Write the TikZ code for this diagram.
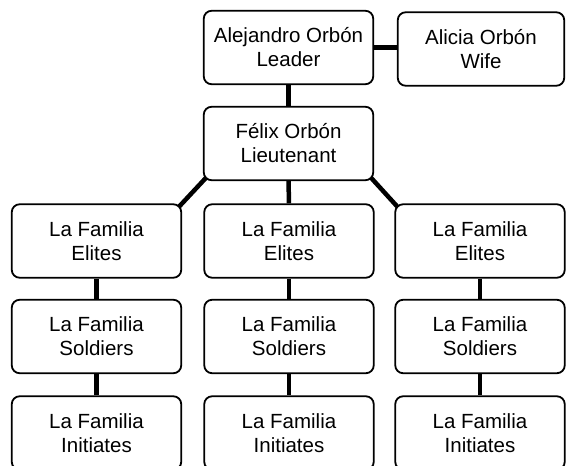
\documentclass[tikz,border=0pt]{standalone}
\usepackage{fontspec}
\setmainfont{Liberation Sans}
\usetikzlibrary{backgrounds}
\begin{document}
\begin{tikzpicture}[x=1pt,y=-1pt,
  rank/.style={draw,line width=1.8pt,rounded corners=8pt,fill=white,minimum width=169.5pt,minimum height=73.5pt,align=center,inner sep=0pt,font=\fontsize{20.5}{24}\selectfont},
  tie/.style={line width=4.5pt},
  long tie/.style={tie,shorten >=-6pt,shorten <=-6pt}]
\clip (0,0) rectangle (566,466);

% top of the family
\node[rank] (leader) at (288.5,47.5) {Alejandro Orbón\\Leader};
\node[rank,minimum width=166.5pt] (wife) at (481,49) {Alicia Orbón\\Wife};
\node[rank] (lieut) at (288.5,143.5) {Félix Orbón\\Lieutenant};

% the three columns
\foreach \c/\xc in {l/96.5,m/289,r/480}{
  \node[rank] (elite\c) at (\xc,241) {La Familia\\Elites};
  \node[rank] (soldier\c) at (\xc,336.5) {La Familia\\Soldiers};
  \node[rank] (initiate\c) at (\xc,433) {La Familia\\Initiates};
  \begin{scope}[on background layer]
    \draw[tie] (elite\c) -- (soldier\c);
    \draw[tie] (soldier\c) -- (initiate\c);
  \end{scope}
}

\begin{scope}[on background layer]
\draw[tie] (leader.east) -- (leader.east -| wife.west);
\draw[tie] (leader) -- (lieut);
\draw[tie] (lieut) -- (elitem);
\draw[long tie] (lieut.south west) -- (elitel.north east);
\draw[long tie] (lieut.south east) -- (eliter.north west);
\end{scope}

\end{tikzpicture}
\end{document}
